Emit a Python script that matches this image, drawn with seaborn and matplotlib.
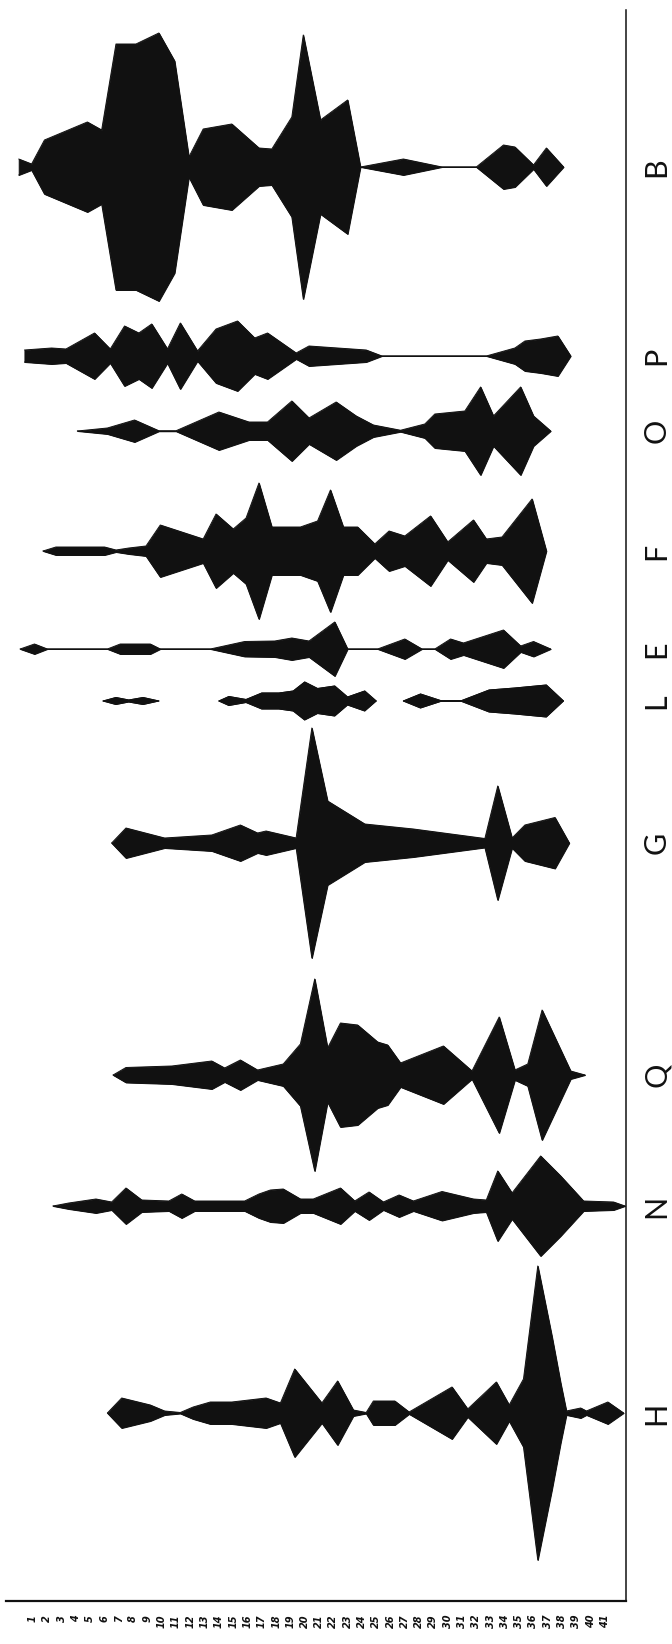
import numpy as np
import matplotlib
matplotlib.use("Agg")
import matplotlib.pyplot as plt
import seaborn as sns
import pandas as pd

# ---------------- data ----------------
categories = ["B", "P", "O", "F", "E", "L", "G", "Q", "N", "H"]
level_ticks = list(range(1, 42))
nan = np.nan

# vertex positions (level) and relative frequency (percent) of each type
B_lvl = [0.0, 0.9, 1.8, 4.8, 5.8, 6.8, 8.2, 9.8, 10.9, 11.9, 12.9, 14.9, 16.8, 17.7, 19.1, 19.9, 21.1, 23.0, 23.9, 26.9, 29.6, 32.0, 33.9, 34.7, 36.0, 36.9, 38.1]
B_pct = [3.2, 1.2, 10.8, 18.0, 14.8, 49.2, 49.2, 53.6, 42.4, 4.0, 15.2, 17.2, 7.6, 7.2, 20.0, 52.8, 18.8, 26.8, 0, 3.2, 0, 0, 8.8, 8.0, 0.8, 7.6, 0]

P_lvl = [0.4, 2.3, 3.3, 5.3, 6.4, 7.4, 8.4, 9.3, 10.4, 11.3, 12.5, 13.8, 15.3, 16.5, 17.4, 19.4, 20.3, 24.3, 25.4, 32.7, 34.7, 35.4, 36.5, 37.7, 38.6]
P_pct = [2.4, 3.2, 2.8, 9.2, 2.8, 12.0, 9.2, 12.8, 2.8, 13.2, 2.0, 10.8, 14.0, 7.2, 9.2, 1.2, 4.0, 2.4, 0, 0, 3.2, 6.0, 6.8, 8.0, 0]

O_lvl = [4.1, 6.2, 8.1, 9.8, 11.0, 14.0, 16.1, 17.4, 19.1, 20.3, 22.2, 23.6, 24.8, 26.7, 28.4, 29.1, 31.2, 32.3, 33.2, 35.1, 36.0, 37.2]
O_pct = [0, 1.2, 4.4, 0.1, 0.1, 7.6, 3.6, 3.6, 12.0, 5.2, 11.6, 6.0, 2.4, 0.3, 2.8, 6.8, 8.0, 17.6, 6.0, 17.6, 6.0, 0]

F_lvl = [1.7, 2.6, 6.0, 6.8, 7.7, 8.9, 9.9, 12.9, 13.8, 15.0, 15.9, 16.8, 17.7, 19.7, 20.9, 21.8, 22.7, 23.7, 24.9, 25.9, 27.0, 28.8, 30.0, 31.8, 32.7, 33.8, 35.9, 36.9]
F_pct = [0, 1.6, 1.6, 0.4, 1.2, 2.0, 10.4, 4.8, 14.8, 8.8, 13.2, 27.2, 9.6, 9.6, 12.0, 24.4, 9.6, 9.6, 2.8, 8.0, 6.0, 14.0, 3.6, 12.4, 4.8, 5.6, 20.8, 0]

E_lvl = [0.1, 1.1, 2.0, 6.2, 7.1, 9.2, 9.9, 13.4, 15.8, 17.9, 19.1, 20.3, 22.1, 23.0, 25.1, 27.0, 28.2, 29.1, 30.2, 31.1, 33.9, 35.1, 36.0, 37.2]
E_pct = [0, 2.0, 0, 0, 2.0, 2.0, 0, 0, 3.0, 3.2, 4.4, 3.2, 10.8, 0, 0, 4.0, 0, 0, 4.0, 2.4, 7.6, 1.2, 3.0, 0]

L_lvl = [5.9, 6.8, 7.7, 8.7, 9.8, nan, 14.0, 14.7, 15.9, 17.0, 18.2, 19.2, 20.0, 20.9, 22.1, 23.0, 24.2, 25.0, nan, 26.9, 28.1, 29.6, 30.9, 32.9, 34.7, 36.9, 38.1]
L_pct = [0, 1.4, 0.4, 1.4, 0, nan, 0, 1.8, 0.6, 3.2, 3.2, 4.0, 7.6, 5.0, 6.0, 1.6, 4.0, 0, nan, 0, 2.8, 0, 0, 4.4, 5.2, 6.4, 0]

G_lvl = [6.5, 7.5, 10.2, 13.5, 15.5, 16.7, 17.3, 19.4, 20.5, 21.6, 24.2, 27.6, 32.6, 33.5, 34.5, 35.4, 37.5, 38.5]
G_pct = [0, 6.0, 2.0, 3.2, 7.2, 4.0, 4.8, 2.0, 46.0, 16.8, 7.6, 5.6, 1.8, 22.8, 2.0, 7.2, 10.2, 0]

Q_lvl = [6.6, 7.5, 10.7, 13.5, 14.4, 15.5, 16.7, 18.5, 19.7, 20.7, 21.6, 22.5, 23.7, 25.1, 25.8, 26.7, 29.7, 31.7, 33.6, 34.7, 35.6, 36.6, 38.6, 39.6]
Q_pct = [0, 3.0, 3.6, 5.6, 2.8, 6.0, 2.0, 4.4, 12.4, 38.4, 10.8, 20.8, 20.0, 13.2, 12.0, 4.8, 11.6, 1.6, 23.2, 2.0, 4.4, 26.0, 1.6, 0]

N_lvl = [2.4, 3.5, 5.4, 6.5, 7.5, 8.6, 10.5, 11.4, 12.3, 15.8, 16.8, 17.6, 18.5, 19.7, 20.6, 22.5, 23.5, 24.5, 25.5, 26.6, 27.6, 29.6, 31.8, 32.7, 33.5, 34.5, 36.5, 37.9, 39.5, 41.6, 42.4]
N_pct = [0, 1.2, 2.8, 1.6, 7.2, 2.4, 2.0, 4.8, 2.0, 2.0, 4.8, 6.4, 6.8, 2.8, 2.8, 7.2, 2.0, 5.6, 1.6, 4.4, 2.0, 5.8, 2.8, 2.4, 14.0, 5.2, 20.0, 12.0, 2.0, 1.6, 0]

H_lvl = [6.2, 7.2, 9.2, 10.2, 11.3, 12.2, 13.4, 14.9, 17.3, 18.3, 19.3, 21.2, 22.3, 23.4, 24.3, 24.8, 26.3, 27.3, 30.3, 31.4, 33.4, 34.3, 35.3, 36.3, 37.3, 37.9, 38.3, 39.3, 39.7, 41.2, 42.3]
H_pct = [0, 6.0, 3.2, 0.8, 0.2, 2.4, 4.4, 4.4, 6.0, 4.0, 17.6, 4.0, 12.8, 1.2, 0.2, 4.8, 4.8, 0.4, 10.4, 1.6, 12.4, 3.2, 13.6, 58.8, 30.4, 12.0, 0.8, 2.0, 0.8, 4.4, 0]

series = {
    "B": (B_lvl, B_pct), "P": (P_lvl, P_pct), "O": (O_lvl, O_pct),
    "F": (F_lvl, F_pct), "E": (E_lvl, E_pct), "L": (L_lvl, L_pct),
    "G": (G_lvl, G_pct), "Q": (Q_lvl, Q_pct), "N": (N_lvl, N_pct),
    "H": (H_lvl, H_pct),
}

# ---------------- layout ----------------
row_center = {"B": 167, "P": 356, "O": 431, "F": 551, "E": 649,
              "L": 701, "G": 843, "Q": 1075, "N": 1206, "H": 1413}
HALF_PER_PCT = 2.5   # half-width (axis units) for 1 percent
INK = "#111111"

sns.set_theme(style="white")
plt.rcParams["font.family"] = ["DejaVu Sans"]

W, H = 672, 1644
fig = plt.figure(figsize=(W / 100, H / 100), dpi=100)
fig.patch.set_facecolor("white")
ax = fig.add_axes([6 / W, (H - 1601) / H, (626 - 6) / W, (1601 - 10) / H])
ax.set_facecolor("white")

for cat in categories:
    lv, pc = series[cat]
    df = pd.DataFrame({"level": lv, "pct": pc})
    c = row_center[cat]
    hw = df["pct"] * HALF_PER_PCT
    ax.fill_between(df["level"], c - hw, c + hw, color=INK, edgecolor=INK,
                    linewidth=0.7, zorder=2)
    # outline / connecting hairlines, segment by segment
    seg_id = df["level"].isna().cumsum()
    for _, seg in df.dropna().groupby(seg_id[df["level"].notna()]):
        h = seg["pct"] * HALF_PER_PCT
        sns.lineplot(x=seg["level"].values, y=(c - h).values, ax=ax, color=INK,
                     lw=0.7, sort=False, estimator=None, zorder=3)
        sns.lineplot(x=seg["level"].values, y=(c + h).values, ax=ax, color=INK,
                     lw=0.7, sort=False, estimator=None, zorder=3)

ax.set_xlim(-0.89, 42.47)
ax.set_ylim(1601, 10)

# spines
for s in ["top", "left"]:
    ax.spines[s].set_visible(False)
ax.spines["bottom"].set_color(INK)
ax.spines["bottom"].set_linewidth(1.6)
ax.spines["right"].set_color(INK)
ax.spines["right"].set_linewidth(1.1)

# x ticks: levels
ax.set_xticks(level_ticks)
ax.set_xticklabels([str(v) for v in level_ticks], rotation=90,
                   fontsize=7, fontstyle="italic", fontweight="bold", color=INK)
ax.tick_params(axis="x", length=0, pad=10)

# y ticks: categories on the right
ax.yaxis.tick_right()
ax.set_yticks([row_center[c] for c in categories])
ax.set_yticklabels(categories, rotation=90, va="center", fontsize=22,
                   fontweight="normal", family=["Lato", "DejaVu Sans"], color=INK)
ax.tick_params(axis="y", length=0, pad=12)
ax.set_xlabel("")
ax.set_ylabel("")
ax.grid(False)

fig.savefig("out.png", dpi=100, facecolor="white")
